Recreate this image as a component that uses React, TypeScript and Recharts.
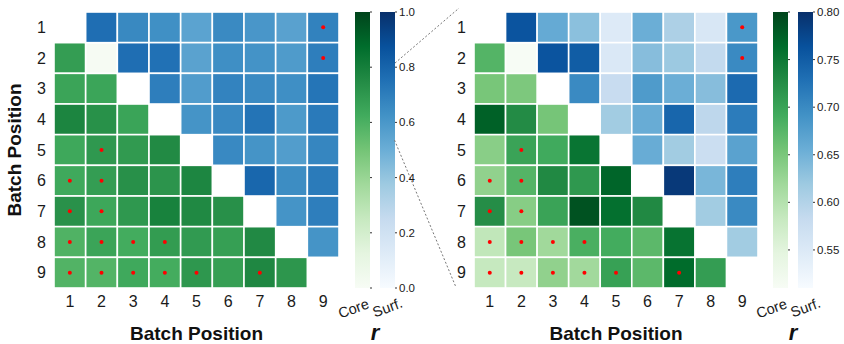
import React from 'react';
import { ScatterChart, Scatter, XAxis, YAxis, ReferenceArea, ReferenceLine, Label } from 'recharts';

const positions = [1, 2, 3, 4, 5, 6, 7, 8, 9];

// Core r, lower triangle: row n holds columns 1..n-1
const coreRows: number[][] = [
  [],
  [0.678],
  [0.652, 0.648],
  [0.774, 0.728, 0.653],
  [0.638, 0.7, 0.692, 0.754],
  [0.632, 0.678, 0.73, 0.713, 0.771],
  [0.725, 0.64, 0.7, 0.788, 0.76, 0.73],
  [0.588, 0.652, 0.619, 0.685, 0.69, 0.672, 0.757],
  [0.583, 0.582, 0.632, 0.618, 0.703, 0.672, 0.765, 0.707],
];

// Core r on the diagonal (only batch 2 has a value)
const coreDiagonal: (number | null)[] = [null, 0.01, null, null, null, null, null, null, null];

// Surf. r, upper triangle: row n holds columns n+1..9
const surfRows: number[][] = [
  [0.76, 0.66, 0.632, 0.548, 0.655, 0.605, 0.556, 0.684],
  [0.76, 0.75, 0.553, 0.635, 0.62, 0.585, 0.7],
  [0.7, 0.58, 0.68, 0.655, 0.635, 0.735],
  [0.615, 0.658, 0.74, 0.59, 0.715],
  [0.658, 0.615, 0.575, 0.67],
  [0.79, 0.645, 0.713],
  [0.615, 0.7],
  [0.615],
  [],
];

// [row, column] of the cells marked with a red dot
const markedCells: [number, number][] = [
  [1, 9], [2, 9], [5, 2], [6, 1], [6, 2], [7, 1], [7, 2],
  [8, 1], [8, 2], [8, 3], [8, 4],
  [9, 1], [9, 2], [9, 3], [9, 4], [9, 5], [9, 7],
];

const fullTicks = [0, 0.2, 0.4, 0.6, 0.8, 1.0];
const zoomTicks = [0.55, 0.6, 0.65, 0.7, 0.75, 0.8];
const barLabels = ['Core', 'Surf.'];

const GREENS = ['#f7fcf5', '#e5f5e0', '#c7e9c0', '#a1d99b', '#74c476', '#41ab5d', '#238b45', '#006d2c', '#00441b'];
const BLUES = ['#f7fbff', '#deebf7', '#c6dbef', '#9ecae1', '#6baed6', '#4292c6', '#2171b5', '#08519c', '#08306b'];

const hexToRgb = (h: string) => [1, 3, 5].map((i) => parseInt(h.slice(i, i + 2), 16));

const cmap = (stops: string[], t: number) => {
  const c = Math.max(0, Math.min(1, t)) * (stops.length - 1);
  const i = Math.min(Math.floor(c), stops.length - 2);
  const f = c - i;
  const a = hexToRgb(stops[i]);
  const b = hexToRgb(stops[i + 1]);
  const rgb = a.map((v, k) => Math.round(v + (b[k] - v) * f));
  return `rgb(${rgb.join(',')})`;
};

type Cell = { x: number; y: number; v: number; kind: 'core' | 'surf' };

const cells: Cell[] = [];
coreRows.forEach((vals, r) => vals.forEach((v, c) => cells.push({ x: c + 1, y: r + 1, v, kind: 'core' })));
coreDiagonal.forEach((v, r) => {
  if (v !== null) cells.push({ x: r + 1, y: r + 1, v, kind: 'core' });
});
surfRows.forEach((vals, r) => vals.forEach((v, c) => cells.push({ x: r + 2 + c, y: r + 1, v, kind: 'surf' })));

const marks = markedCells.map(([row, col]) => ({ x: col, y: row }));

const FONT = '"Liberation Sans", Arial, sans-serif';
const H = 344;
const TOP = 12;
const X_AXIS_H = 56;

const Heatmap = ({ left, width, axisW, right, lo, hi, showYLabel }: any) => {
  const cw = (width - axisW - right) / 9;
  const ch = (H - TOP - X_AXIS_H) / 9;
  const drawCell = (p: any) => {
    const t = (p.payload.v - lo) / (hi - lo);
    const fill = p.payload.kind === 'core' ? cmap(GREENS, t) : cmap(BLUES, t);
    return <rect x={p.cx - cw / 2} y={p.cy - ch / 2} width={cw} height={ch} fill={fill} stroke="#fff" strokeWidth={1.6} />;
  };
  return (
    <div style={{ position: 'absolute', left, top: 0 }}>
      <ScatterChart width={width} height={H} margin={{ top: TOP, right, bottom: 0, left: 0 }}>
        <XAxis
          type="number"
          dataKey="x"
          domain={[0.5, 9.5]}
          ticks={positions}
          interval={0}
          axisLine={false}
          tickLine={false}
          height={X_AXIS_H}
          tick={{ fontSize: 16, fill: '#1a1a1a' }}
        >
          <Label value="Batch Position" position="insideBottom" offset={4} style={{ fontSize: 19, fontWeight: 'bold', fill: '#111' }} />
        </XAxis>
        <YAxis
          type="number"
          dataKey="y"
          domain={[0.5, 9.5]}
          reversed
          ticks={positions}
          interval={0}
          axisLine={false}
          tickLine={false}
          width={axisW}
          tick={{ fontSize: 16, fill: '#1a1a1a' }}
        >
          {showYLabel && (
            <Label value="Batch Position" angle={-90} position="insideLeft" offset={14} style={{ fontSize: 19, fontWeight: 'bold', fill: '#111', textAnchor: 'middle' }} />
          )}
        </YAxis>
        <Scatter data={cells} shape={drawCell} isAnimationActive={false} />
        <Scatter data={marks} shape={(p: any) => <circle cx={p.cx} cy={p.cy} r={2} fill="#ff0000" />} isAnimationActive={false} />
      </ScatterChart>
    </div>
  );
};

const BarTick = ({ x, y, payload }: any) => {
  const first = payload.value < 20;
  return (
    <g transform={`translate(${x + (first ? -9 : 0)},${y + (first ? 12.5 : 11.5)}) rotate(-20)`}>
      <text textAnchor="middle" dy={5} fontSize={14.5} fill="#1a1a1a">
        {barLabels[first ? 0 : 1]}
      </text>
    </g>
  );
};

const Colorbars = ({ left, width, right, lo, hi, ticks, digits, id, guides }: any) => (
  <div style={{ position: 'absolute', left, top: 0 }}>
    <ScatterChart width={width} height={H} margin={{ top: TOP, right, bottom: 0, left: 25 }}>
      <defs>
        {[['g', GREENS], ['b', BLUES]].map(([k, stops]: any) => (
          <linearGradient key={k} id={`${id}-${k}`} x1="0" y1="1" x2="0" y2="0">
            {stops.map((c: string, i: number) => (
              <stop key={i} offset={`${(i / (stops.length - 1)) * 100}%`} stopColor={c} />
            ))}
          </linearGradient>
        ))}
      </defs>
      <XAxis
        type="number"
        dataKey="x"
        domain={[0, 40]}
        ticks={[7.5, 32.5]}
        interval={0}
        axisLine={false}
        tickLine={false}
        height={X_AXIS_H}
        tick={<BarTick />}
      >
        <Label value="r" position="insideBottom" offset={4} style={{ fontSize: 22, fontWeight: 'bold', fontStyle: 'italic', fill: '#111' }} />
      </XAxis>
      <YAxis
        type="number"
        dataKey="y"
        orientation="right"
        domain={[lo, hi]}
        ticks={ticks}
        interval={0}
        axisLine={false}
        tickSize={2}
        tickMargin={2}
        tickLine={{ stroke: '#333' }}
        width={30}
        tickFormatter={(v: number) => v.toFixed(digits)}
        tick={{ fontSize: 11.5, fill: '#1a1a1a', textAnchor: 'start' }}
      />
      <ReferenceArea x1={0} x2={15} y1={lo} y2={hi} fill={`url(#${id}-g)`} fillOpacity={1} stroke="none" />
      <ReferenceArea x1={25} x2={40} y1={lo} y2={hi} fill={`url(#${id}-b)`} fillOpacity={1} stroke="none" />
      <Scatter
        data={ticks.map((v: number) => ({ x: 15, y: v }))}
        shape={(p: any) => <line x1={p.cx} x2={p.cx + 2} y1={p.cy} y2={p.cy} stroke="#333" strokeWidth={1} />}
        isAnimationActive={false}
      />
      {guides &&
        guides.map((seg: any, i: number) => (
          <ReferenceLine key={i} segment={seg} ifOverflow="visible" stroke="#777" strokeDasharray="2 2" strokeWidth={1} />
        ))}
    </ScatterChart>
  </div>
);

// zoom guides, from the full-range colorbar to the zoomed panel (colorbar data units)
const zoomGuides = [
  [{ x: 40, y: 0.815 }, { x: 104, y: 1.014 }],
  [{ x: 39.5, y: 0.536 }, { x: 100.5, y: 0.007 }],
];

export default function App() {
  return (
    <div style={{ position: 'absolute', left: 0, top: 0, width: 844, height: 344, background: '#fff', fontFamily: FONT }}>
      <Heatmap left={0} width={340} axisW={54} right={1} lo={0} hi={1} showYLabel />
      <Colorbars left={330} width={145} right={50} lo={0} hi={1} ticks={fullTicks} digits={1} id="cb1" guides={zoomGuides} />
      <Heatmap left={420} width={340} axisW={54} right={2} lo={0.51} hi={0.8} showYLabel={false} />
      <Colorbars left={748} width={96} right={1} lo={0.51} hi={0.8} ticks={zoomTicks} digits={2} id="cb2" />
    </div>
  );
}
